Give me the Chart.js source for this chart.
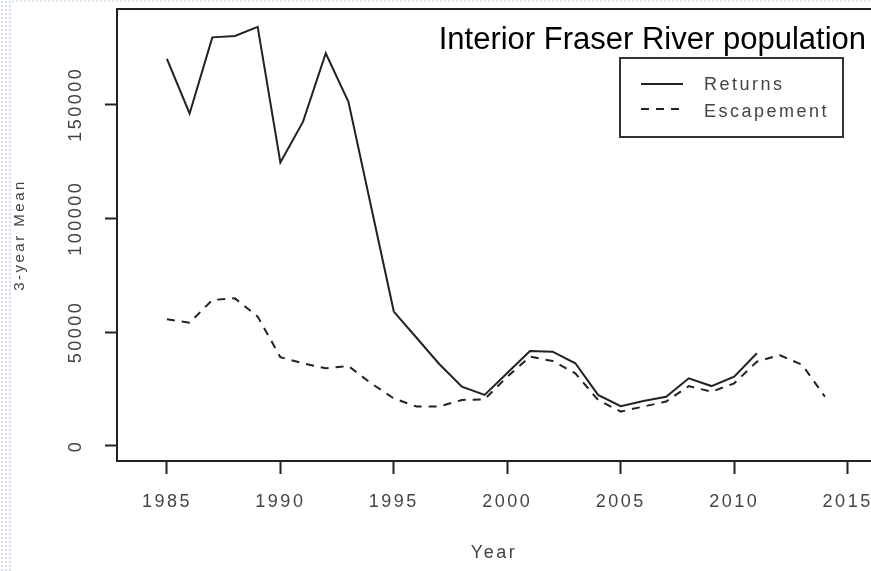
<!DOCTYPE html>
<html>
<head>
<meta charset="utf-8">
<script src="https://cdn.jsdelivr.net/npm/chart.js@4/dist/chart.umd.min.js"></script>
<style>
  body { margin: 0; background: #fff; }
  #wrap { position: relative; width: 871px; height: 571px; overflow: hidden; }
  #dots { position: absolute; left: 0; top: 0; width: 11px; height: 571px;
          background-image: radial-gradient(#d3dcef 1px, transparent 1.3px); background-size: 4px 4px; }
  #topdots { position: absolute; left: 11px; top: 0; width: 860px; height: 2px;
          background-image: radial-gradient(#d3dcef 1px, transparent 1.3px); background-size: 4px 2px; }
  canvas { position: absolute; left: 0; top: 0; }
</style>
</head>
<body>
<div id="wrap">
  <div id="dots"></div>
  <div id="topdots"></div>
  <canvas id="myChart" width="871" height="571"></canvas>
</div>
<script>
var years = [1985, 1986, 1987, 1988, 1989, 1990, 1991, 1992, 1993, 1994,
             1995, 1996, 1997, 1998, 1999, 2000, 2001, 2002, 2003, 2004,
             2005, 2006, 2007, 2008, 2009, 2010, 2011, 2012, 2013, 2014];

// 3-year mean of returns, 1985-2011
var returns = [170000, 146000, 179400, 180000, 184000, 124500, 142400, 172400, 151100, 105000,
               59000, 47500, 36000, 26000, 22400, 32000, 41700, 41400, 36300, 22400,
               17500, 19700, 21600, 29700, 26300, 30400, 40700];

// 3-year mean of escapement, 1985-2014
var escapement = [55600, 54100, 64100, 64800, 56800, 39000, 36300, 34100, 35100, 27500,
                  20900, 17300, 17300, 20200, 20500, 30400, 39200, 37300, 31900, 20200,
                  15100, 17300, 19500, 26300, 23800, 27500, 37000, 39900, 35600, 21600];

var xTicks = [1985, 1990, 1995, 2000, 2005, 2010, 2015];
var yTicks = [0, 50000, 100000, 150000];

var titleText = 'Interior Fraser River population';
var font = "Arial, 'Liberation Sans', sans-serif";
var ink = '#222';
var grey = '#444';

function points(vals) {
    return vals.map(function(v, i) { return {x: years[i], y: v}; });
}

// R style text is letter-spaced a bit
var spacing = {
    id: 'spacing',
    beforeUpdate: function(chart) { chart.ctx.letterSpacing = '2.5px'; },
    beforeDraw: function(chart) { chart.ctx.letterSpacing = '2.5px'; }
};

// top of the box, title and the legend box inside the plot
var extras = {
    id: 'extras',
    afterDraw: function(chart) {
        var ctx = chart.ctx;
        var a = chart.chartArea;
        ctx.save();
        ctx.strokeStyle = ink;
        ctx.lineWidth = 2;
        ctx.beginPath();
        ctx.moveTo(a.left - 1, a.top);
        ctx.lineTo(a.right, a.top);
        ctx.stroke();

        ctx.letterSpacing = '0px';
        ctx.fillStyle = '#000';
        ctx.font = '31px ' + font;
        ctx.textAlign = 'right';
        ctx.textBaseline = 'alphabetic';
        ctx.fillText(titleText, a.right - 5, 49);

        // legend
        ctx.lineWidth = 2;
        ctx.strokeStyle = '#333';
        ctx.strokeRect(620, 58, 223, 79);
        ctx.letterSpacing = '2.5px';
        ctx.font = '18px ' + font;
        ctx.textAlign = 'left';
        ctx.textBaseline = 'middle';
        ctx.fillStyle = grey;
        var rows = [84, 109];
        var textRows = [85, 112];
        chart.data.datasets.forEach(function(ds, i) {
            ctx.strokeStyle = ds.borderColor;
            ctx.setLineDash(ds.borderDash || []);
            ctx.beginPath();
            ctx.moveTo(641, rows[i]);
            ctx.lineTo(683, rows[i]);
            ctx.stroke();
            ctx.setLineDash([]);
            ctx.fillText(ds.label, 704, textRows[i]);
        });
        ctx.restore();
    }
};

var ctx = document.getElementById('myChart').getContext('2d');
var chart = new Chart(ctx, {
    type: 'line',
    data: {
        datasets: [{
            label: 'Returns',
            data: points(returns),
            borderColor: ink,
            borderWidth: 2,
            pointRadius: 0,
            tension: 0,
            fill: false
        }, {
            label: 'Escapement',
            data: points(escapement),
            borderColor: ink,
            borderWidth: 2,
            borderDash: [8, 7],
            pointRadius: 0,
            tension: 0,
            fill: false
        }]
    },
    options: {
        responsive: false,
        animation: false,
        layout: { padding: { top: 9, left: 0, right: 0, bottom: 0 } },
        plugins: {
            legend: { display: false },
            tooltip: { enabled: false }
        },
        scales: {
            x: {
                type: 'linear',
                min: 1982.8,
                max: 2016.03,
                afterBuildTicks: function(s) { s.ticks = xTicks.map(function(v) { return {value: v}; }); },
                afterFit: function(s) { s.height = 110; s.paddingLeft = 0; s.paddingRight = 0; },
                ticks: {
                    callback: function(v) { return String(v); },
                    font: { size: 18, family: font },
                    color: grey,
                    padding: 17,
                    maxRotation: 0
                },
                grid: { drawOnChartArea: false, drawTicks: true, tickLength: 13, tickWidth: 2, tickColor: ink },
                border: { display: true, color: ink, width: 2 },
                title: {
                    display: true, text: 'Year', color: grey,
                    font: { size: 18, family: font },
                    padding: { top: 0, bottom: 7 }
                }
            },
            y: {
                min: -6600,
                max: 191850,
                afterBuildTicks: function(s) { s.ticks = yTicks.map(function(v) { return {value: v}; }); },
                afterFit: function(s) { s.width = 117; s.paddingTop = 0; s.paddingBottom = 0; },
                ticks: {
                    callback: function(v) { return String(v); },
                    font: { size: 18, family: font },
                    color: grey,
                    minRotation: 90,
                    maxRotation: 90,
                    crossAlign: 'center',
                    padding: -9
                },
                grid: { drawOnChartArea: false, drawTicks: true, tickLength: 12, tickWidth: 2, tickColor: ink },
                border: { display: true, color: ink, width: 2 },
                title: {
                    display: true, text: '3-year Mean', color: grey,
                    font: { size: 15, family: font },
                    padding: { top: 11, bottom: 0 }
                }
            }
        }
    },
    plugins: [spacing, extras]
});
</script>
</body>
</html>
